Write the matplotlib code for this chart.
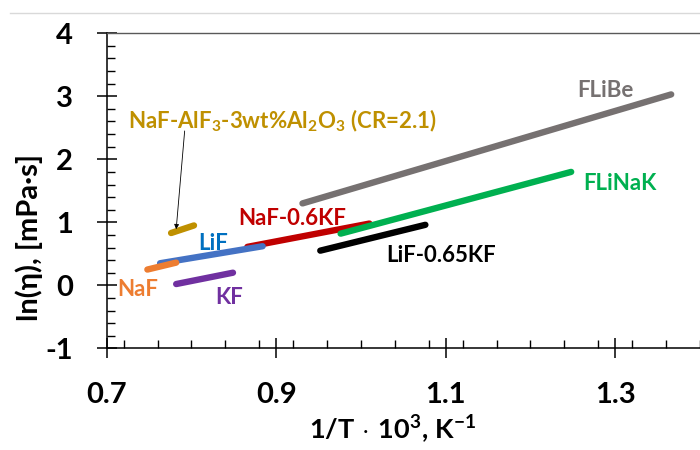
import matplotlib
matplotlib.use("Agg")
import matplotlib.pyplot as plt
from matplotlib.ticker import MultipleLocator
from matplotlib.lines import Line2D

plt.rcParams['font.family'] = ['Lato', 'DejaVu Sans']
plt.rcParams['font.weight'] = 'bold'
plt.rcParams['mathtext.fontset'] = 'custom'
plt.rcParams['mathtext.rm'] = 'Lato:bold'
plt.rcParams['mathtext.it'] = 'Lato:bold'
plt.rcParams['mathtext.bf'] = 'Lato:bold'
plt.rcParams['mathtext.default'] = 'rm'

# ---- data (1/T*10^3 endpoints, ln(eta) endpoints) ----
series_names = ["FLiBe", "FLiNaK", "LiF-0.65KF", "NaF-0.6KF", "LiF", "NaF", "KF", "NaF-AlF3-Al2O3"]
flibe_x = [0.931, 1.366]
flibe_y = [1.30, 3.03]
flinak_x = [0.976, 1.248]
flinak_y = [0.82, 1.80]
lif_kf_x = [0.952, 1.076]
lif_kf_y = [0.55, 0.96]
naf_kf_x = [0.866, 1.010]
naf_kf_y = [0.61, 0.98]
lif_x = [0.763, 0.884]
lif_y = [0.35, 0.62]
naf_x = [0.748, 0.782]
naf_y = [0.25, 0.36]
kf_x = [0.782, 0.849]
kf_y = [0.02, 0.20]
cryo_x = [0.776, 0.803]
cryo_y = [0.83, 0.95]

x_ticks = [0.7, 0.9, 1.1, 1.3]
y_ticks = [-1, 0, 1, 2, 3, 4]

fig = plt.figure(figsize=(7, 4.5), dpi=100)
ax = fig.add_axes([0.1524, 0.226, 0.8476, 0.700])

lw = 4.6
ax.plot(flibe_x, flibe_y, color='#767171', lw=lw, solid_capstyle='round')
ax.plot(lif_kf_x, lif_kf_y, color='#000000', lw=lw, solid_capstyle='round')
ax.plot(naf_kf_x, naf_kf_y, color='#C00000', lw=lw, solid_capstyle='round')
ax.plot(flinak_x, flinak_y, color='#00B050', lw=lw, solid_capstyle='round')
ax.plot(lif_x, lif_y, color='#4472C4', lw=lw, solid_capstyle='round')
ax.plot(naf_x, naf_y, color='#ED7D31', lw=lw, solid_capstyle='round')
ax.plot(kf_x, kf_y, color='#7030A0', lw=lw, solid_capstyle='round')
ax.plot(cryo_x, cryo_y, color='#BF9000', lw=lw, solid_capstyle='round')

fs = 16
ax.text(1.289, 3.09, "FLiBe", color='#767171', fontsize=fs, fontweight='bold', ha='center', va='center')
ax.text(1.305, 1.62, "FLiNaK", color='#00B050', fontsize=fs, fontweight='bold', ha='center', va='center')
ax.text(1.094, 0.47, "LiF-0.65KF", color='#000000', fontsize=fs, fontweight='bold', ha='center', va='center')
ax.text(0.919, 1.06, "NaF-0.6KF", color='#C00000', fontsize=fs, fontweight='bold', ha='center', va='center')
ax.text(0.8255, 0.66, "LiF", color='#0070C0', fontsize=fs, fontweight='bold', ha='center', va='center')
ax.text(0.737, -0.07, "NaF", color='#ED7D31', fontsize=fs, fontweight='bold', ha='center', va='center')
ax.text(0.845, -0.19, "KF", color='#7030A0', fontsize=fs, fontweight='bold', ha='center', va='center')
ax.text(0.725, 2.61, r"NaF-AlF$_3$-3wt%Al$_2$O$_3$ (CR=2.1)", color='#BF9000',
        fontsize=fs, fontweight='bold', ha='left', va='center')
ax.annotate("", xy=(0.782, 0.89), xytext=(0.792, 2.45),
            arrowprops=dict(arrowstyle='-|>', color='black', lw=0.6,
                            mutation_scale=7, shrinkA=0, shrinkB=0))

ax.set_xlim(0.7, 1.4)
ax.set_ylim(-1, 4)
ax.set_xticks(x_ticks)
ax.set_yticks(y_ticks)
ax.set_xticklabels([f"{v:.1f}" for v in x_ticks])
ax.set_yticklabels([str(v) for v in y_ticks])
ax.xaxis.set_minor_locator(MultipleLocator(0.04))
ax.yaxis.set_minor_locator(MultipleLocator(0.2))

ax.tick_params(which='major', direction='inout', length=15, width=1.1, labelsize=21, pad=17)
ax.tick_params(which='minor', direction='in', length=6, width=1.0)
for lab in ax.get_xticklabels() + ax.get_yticklabels():
    lab.set_fontweight('bold')

ax.spines['right'].set_visible(False)
ax.spines['top'].set_color('#595959')
ax.spines['top'].set_linewidth(1.0)
ax.spines['left'].set_linewidth(1.1)
ax.spines['bottom'].set_linewidth(1.1)

ax.set_xlabel(r"1/T$\,\cdot\,$10$^3$, K$^{-1}$", fontsize=19.5, fontweight='bold')
ax.set_ylabel("ln(η), [mPa·s]", fontsize=21, fontweight='bold')
ax.xaxis.set_label_coords(0.482, -0.207)
ax.yaxis.set_label_coords(-0.107, 0.352)

fig.add_artist(Line2D([0.014, 1.0], [0.972, 0.972], color='#D9D9D9', lw=1.0, transform=fig.transFigure))

fig.savefig("out.png", dpi=100)
